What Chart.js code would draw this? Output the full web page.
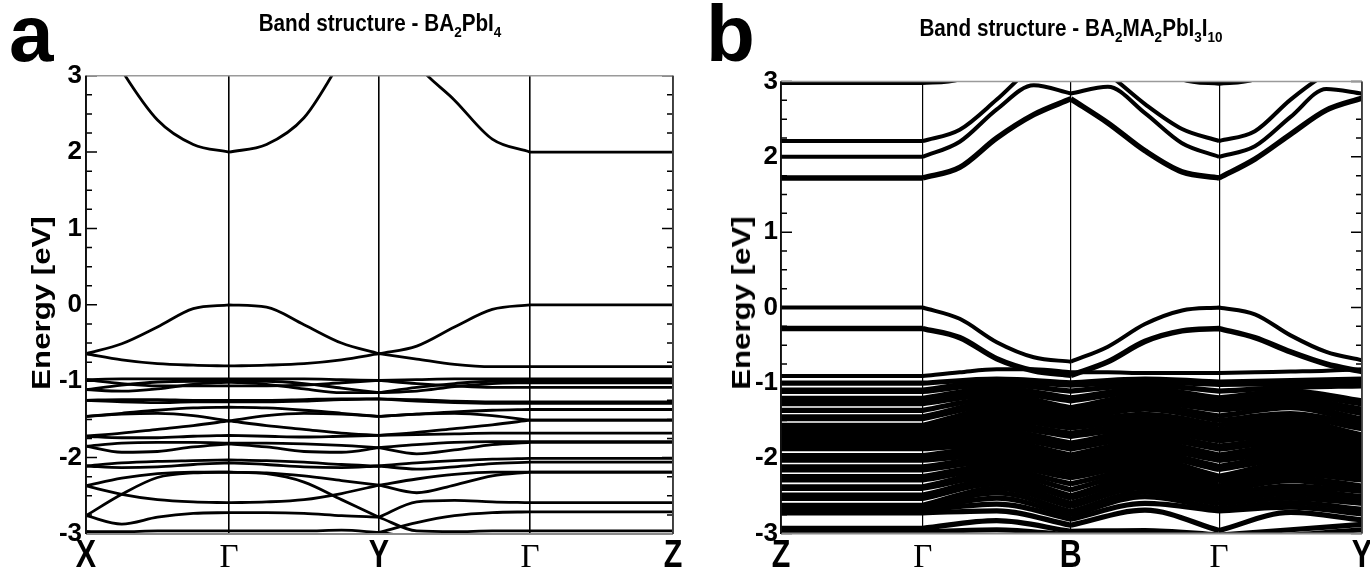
<!DOCTYPE html>
<html><head><meta charset="utf-8">
<script src="https://cdn.jsdelivr.net/npm/chart.js@4.4.1/dist/chart.umd.min.js"></script>
<style>
html,body{margin:0;padding:0;background:#fff;width:1370px;height:570px;overflow:hidden;}
#wrap{position:relative;width:1370px;height:570px;}
canvas{position:absolute;top:0;}
.lbl{position:absolute;font-family:"Liberation Sans",Arial,sans-serif;font-weight:bold;font-size:80px;line-height:80px;color:#000;}
.ttl{position:absolute;font-family:"Liberation Sans",Arial,sans-serif;font-weight:bold;font-size:23px;line-height:23px;white-space:nowrap;transform:translateX(-50%) scaleX(0.9);color:#000;}
.ttl sub{font-size:15px;vertical-align:-6px;line-height:0;}
.ytl{position:absolute;font-family:"Liberation Sans",Arial,sans-serif;font-weight:bold;font-size:26px;line-height:26px;white-space:nowrap;transform:translate(-50%,-50%) rotate(-90deg) scaleX(1.2);color:#000;}
</style></head>
<body><div id="wrap">
<canvas id="ca" width="690" height="570" style="left:0;width:690px;height:570px"></canvas>
<canvas id="cb" width="680" height="570" style="left:690px;width:680px;height:570px"></canvas>
<div class="lbl" style="left:9px;top:-6px">a</div>
<div class="lbl" style="left:706px;top:-6px">b</div>
<div class="ttl" style="left:380px;top:12px">Band structure - BA<sub>2</sub>PbI<sub>4</sub></div>
<div class="ttl" style="left:1071px;top:17px">Band structure - BA<sub>2</sub>MA<sub>2</sub>PbI<sub>3</sub>I<sub>10</sub></div>
<div class="ytl" style="left:41px;top:303px">Energy [eV]</div>
<div class="ytl" style="left:741px;top:303px">Energy [eV]</div>
</div>
<script>
// ---------------- Panel a : BA2PbI4 ----------------
const kNodesA = [0, 1, 2.049, 3.105, 4.105];
const kLabelsA = ['X', 'Γ', 'Y', 'Γ', 'Z'];
// samples: X .25 .5 .75 Γ .25 .5 .75 Y .25 .5 .75 Γ Z
const a_CB1 = [3.9, 3.07, 2.42, 2.10, 2.00, 2.10, 2.45, 3.2, 3.9, 3.15, 2.68, 2.17, 2.00, 2.00];
const a_VB1 = [-0.64, -0.51, -0.29, -0.05, 0.00, -0.03, -0.26, -0.50, -0.64, -0.54, -0.29, -0.06, 0.00, 0.00];
const a_VB2 = [-0.64, -0.72, -0.77, -0.79, -0.80, -0.79, -0.77, -0.72, -0.64, -0.71, -0.78, -0.81, -0.81, -0.81];
const a_L1 = [-0.98, -0.97, -0.97, -0.97, -0.97, -0.97, -0.97, -0.98, -0.99, -0.98, -0.97, -0.97, -0.97, -0.97];
const a_L2 = [-0.98, -1.03, -1.06, -1.06, -1.06, -1.06, -1.05, -1.02, -0.99, -1.03, -1.06, -1.08, -1.08, -1.08];
const a_L3 = [-1.11, -1.05, -1.01, -1.00, -1.00, -1.00, -1.03, -1.09, -1.15, -1.08, -1.03, -1.00, -1.00, -1.00];
const a_L4 = [-1.11, -1.13, -1.10, -1.04, -1.01, -1.04, -1.10, -1.15, -1.15, -1.13, -1.07, -1.03, -1.02, -1.02];
const a_L5 = [-1.25, -1.24, -1.24, -1.25, -1.25, -1.25, -1.24, -1.23, -1.23, -1.24, -1.26, -1.27, -1.27, -1.27];
const a_L6 = [-1.25, -1.27, -1.28, -1.27, -1.27, -1.27, -1.26, -1.24, -1.23, -1.26, -1.28, -1.29, -1.29, -1.29];
const a_L7 = [-1.46, -1.43, -1.42, -1.45, -1.52, -1.45, -1.42, -1.43, -1.46, -1.43, -1.42, -1.45, -1.51, -1.51];
const a_L8 = [-1.72, -1.68, -1.63, -1.58, -1.52, -1.58, -1.63, -1.68, -1.71, -1.67, -1.62, -1.57, -1.51, -1.51];
const a_L9 = [-1.46, -1.42, -1.38, -1.35, -1.34, -1.35, -1.38, -1.42, -1.46, -1.43, -1.40, -1.38, -1.37, -1.37];
const a_L10 = [-1.72, -1.74, -1.74, -1.72, -1.71, -1.72, -1.73, -1.72, -1.71, -1.70, -1.69, -1.68, -1.68, -1.68];
const a_L11 = [-1.85, -1.81, -1.80, -1.80, -1.81, -1.81, -1.82, -1.84, -1.87, -1.83, -1.80, -1.79, -1.79, -1.79];
const a_L12 = [-1.85, -1.93, -1.92, -1.86, -1.82, -1.86, -1.92, -1.93, -1.87, -1.95, -1.90, -1.83, -1.80, -1.80];
const a_L13 = [-2.11, -2.07, -2.05, -2.04, -2.03, -2.04, -2.06, -2.09, -2.11, -2.07, -2.04, -2.02, -2.01, -2.01];
const a_L14 = [-2.11, -2.13, -2.12, -2.09, -2.07, -2.09, -2.12, -2.13, -2.11, -2.15, -2.12, -2.08, -2.06, -2.06];
const a_L15 = [-2.37, -2.27, -2.21, -2.19, -2.19, -2.20, -2.24, -2.30, -2.36, -2.28, -2.22, -2.19, -2.19, -2.19];
const a_L16 = [-2.37, -2.48, -2.55, -2.58, -2.59, -2.58, -2.55, -2.47, -2.36, -2.46, -2.36, -2.24, -2.19, -2.19];
const a_L17 = [-2.76, -2.48, -2.26, -2.20, -2.19, -2.21, -2.32, -2.55, -2.78, -2.96, -2.97, -2.96, -2.96, -2.96];
const a_L18 = [-2.76, -2.87, -2.78, -2.73, -2.72, -2.72, -2.73, -2.76, -2.78, -2.58, -2.56, -2.58, -2.59, -2.59];
const a_L19 = [-2.97, -2.97, -2.96, -2.96, -2.96, -2.96, -2.96, -2.95, -2.98, -2.85, -2.76, -2.72, -2.71, -2.71];
const a_L20 = [-2.97, -3.04, -3.06, -3.06, -3.06, -3.06, -3.06, -3.04, -2.98, -3.04, -3.06, -3.06, -3.06, -3.06];

// ---------------- Panel b : BA2MA2Pb3I10 ----------------
const kNodesB = [0, 1, 2.045, 3.092, 4.100];
const kLabelsB = ['Z', 'Γ', 'B', 'Γ', 'Y'];
// samples: Z Γ .25 .5 .75 B .25 .5 .75 Γ .25 .5 .75 Y
const b_CBt = [2.98, 2.98, 3.03, 3.4, 3.6, 3.6, 3.6, 3.4, 3.03, 2.97, 3.03, 3.4, 3.6, 3.6];
const b_CBu = [2.21, 2.21, 2.36, 2.76, 3.2, 3.4, 3.1, 2.70, 2.37, 2.21, 2.34, 2.76, 3.1, 3.3];
const b_CBm = [2.00, 2.00, 2.20, 2.63, 2.95, 2.84, 2.93, 2.58, 2.18, 2.00, 2.14, 2.53, 2.90, 2.84];
const b_CBl = [1.72, 1.72, 1.86, 2.25, 2.56, 2.77, 2.45, 2.08, 1.80, 1.72, 1.97, 2.30, 2.62, 2.78];
const b_VB1 = [0.00, 0.00, -0.15, -0.46, -0.66, -0.72, -0.52, -0.22, -0.04, 0.00, -0.09, -0.37, -0.59, -0.70];
const b_VB2 = [-0.28, -0.28, -0.40, -0.68, -0.84, -0.90, -0.72, -0.45, -0.31, -0.28, -0.40, -0.59, -0.75, -0.85];
const b_VB3 = [-0.91, -0.91, -0.86, -0.82, -0.82, -0.86, -0.86, -0.87, -0.87, -0.87, -0.86, -0.85, -0.84, -0.82];
// dense manifold: sorted energies at Γ(=Z), mid Γ-B, B, mid B-Γ, Γ, mid Γ-Y, Y
const d_G1 = [-1.005,-1.095,-1.115,-1.205,-1.24,-1.275,-1.365,-1.45,-1.475,-1.565,-1.60,-1.64,-1.68,-1.70,-1.72,-1.76,-1.80,-1.82,-1.84,-1.875,-1.965,-2.00,-2.025,-2.115,-2.155,-2.245,-2.29,-2.38,-2.40,-2.49,-2.535,-2.625,-2.66,-2.675,-2.69,-2.725,-2.93,-2.98];
const d_q1 = [-0.95,-0.98,-1.02,-1.07,-1.12,-1.16,-1.21,-1.26,-1.30,-1.35,-1.40,-1.44,-1.49,-1.54,-1.58,-1.63,-1.68,-1.72,-1.77,-1.82,-1.86,-1.91,-1.96,-2.00,-2.05,-2.10,-2.15,-2.19,-2.24,-2.29,-2.34,-2.40,-2.46,-2.53,-2.61,-2.70,-2.83,-2.95];
const d_B = [-1.00,-1.03,-1.11,-1.20,-1.24,-1.33,-1.37,-1.41,-1.45,-1.49,-1.53,-1.57,-1.60,-1.67,-1.71,-1.80,-1.84,-1.88,-1.96,-2.00,-2.04,-2.08,-2.12,-2.16,-2.22,-2.26,-2.34,-2.42,-2.50,-2.53,-2.60,-2.64,-2.71,-2.76,-2.81,-2.89,-2.97,-3.02];
const d_q2 = [-0.95,-0.99,-1.03,-1.08,-1.12,-1.17,-1.21,-1.26,-1.31,-1.35,-1.42,-1.46,-1.51,-1.55,-1.60,-1.64,-1.69,-1.73,-1.78,-1.83,-1.87,-1.92,-1.96,-2.01,-2.05,-2.10,-2.15,-2.19,-2.24,-2.29,-2.34,-2.39,-2.45,-2.51,-2.60,-2.69,-2.96,-3.02];
const d_G2 = [-0.99,-1.02,-1.11,-1.20,-1.24,-1.28,-1.32,-1.36,-1.44,-1.50,-1.56,-1.62,-1.66,-1.70,-1.74,-1.77,-1.84,-1.88,-1.96,-2.00,-2.03,-2.11,-2.15,-2.24,-2.28,-2.31,-2.37,-2.41,-2.45,-2.49,-2.53,-2.56,-2.61,-2.67,-2.70,-2.96,-3.02,-3.05];
const d_q3 = [-0.97,-1.01,-1.06,-1.11,-1.16,-1.21,-1.25,-1.30,-1.33,-1.41,-1.45,-1.50,-1.55,-1.59,-1.64,-1.69,-1.74,-1.78,-1.83,-1.88,-1.93,-1.97,-2.02,-2.07,-2.12,-2.17,-2.21,-2.26,-2.30,-2.37,-2.42,-2.47,-2.53,-2.59,-2.65,-2.72,-2.95,-3.02];
const d_Y = [-0.95,-1.00,-1.04,-1.24,-1.28,-1.35,-1.41,-1.48,-1.52,-1.56,-1.61,-1.69,-1.73,-1.77,-1.81,-1.85,-1.89,-1.93,-1.97,-2.01,-2.05,-2.09,-2.13,-2.17,-2.21,-2.25,-2.29,-2.37,-2.41,-2.44,-2.51,-2.55,-2.60,-2.68,-2.74,-2.82,-2.88,-2.95];

const yTickValues = [-3, -2, -1, 0, 1, 2, 3];

// ---------------- helpers ----------------
const SANS = '"Liberation Sans",Arial,sans-serif';
const SERIF = '"Liberation Serif","DejaVu Serif",serif';

function buildSeries(nodes, divs, vals) {
  const pts = [];
  let idx = 0;
  for (let s = 0; s < divs.length; s++) {
    const n = divs[s], k0 = nodes[s], k1 = nodes[s + 1];
    for (let j = 0; j <= n; j++) pts.push({x: k0 + (k1 - k0) * j / n, y: vals[idx + j]});
    idx += n;
    if (s < divs.length - 1) pts.push({x: k1, y: null});
  }
  return pts;
}
function ds(data, w) {
  return {data, borderColor: '#000', borderWidth: w, pointRadius: 0, fill: false,
          cubicInterpolationMode: 'monotone', spanGaps: false, borderCapStyle: 'butt', borderJoinStyle: 'round'};
}

const frameTicks = {
  id: 'frameTicks',
  afterDatasetsDraw(chart) {
    const {ctx, chartArea: a, scales: {x, y}} = chart;
    const labels = chart.$kLabels, nodes = chart.$kNodes;
    ctx.save();
    ctx.strokeStyle = '#000';
    ctx.lineWidth = 1.5;
    for (let v = y.min; v <= y.max + 1e-9; v += 0.25) {
      const py = y.getPixelForValue(v);
      const len = Math.abs(v - Math.round(v)) < 1e-6 ? 11 : 6;
      ctx.beginPath();
      ctx.moveTo(a.left, py); ctx.lineTo(a.left + len, py);
      ctx.moveTo(a.right, py); ctx.lineTo(a.right - len, py);
      ctx.stroke();
    }
    // frame
    ctx.lineWidth = 1.5; ctx.strokeStyle = '#9a9a9a';
    ctx.beginPath(); ctx.moveTo(a.left, a.top); ctx.lineTo(a.right, a.top); ctx.stroke();
    ctx.lineWidth = 2; ctx.strokeStyle = '#8a8a8a';
    ctx.beginPath(); ctx.moveTo(a.left, a.bottom); ctx.lineTo(a.right, a.bottom); ctx.stroke();
    ctx.lineWidth = 1.8; ctx.strokeStyle = '#111';
    ctx.beginPath(); ctx.moveTo(a.left, a.top); ctx.lineTo(a.left, a.bottom); ctx.stroke();
    ctx.strokeStyle = '#444';
    ctx.beginPath(); ctx.moveTo(a.right, a.top); ctx.lineTo(a.right, a.bottom); ctx.stroke();
    // k-point labels (condensed, like the original plotting program)
    ctx.fillStyle = '#000';
    ctx.textBaseline = 'alphabetic';
    ctx.textAlign = 'center';
    const base = a.bottom + 33;
    nodes.forEach((k, i) => {
      const px = x.getPixelForValue(k);
      ctx.save();
      ctx.translate(px, base);
      if (labels[i] === 'Γ') {
        ctx.font = 'normal 33px ' + SERIF;
      } else {
        ctx.scale(0.78, 1);
        ctx.font = 'bold 39px ' + SANS;
      }
      ctx.fillText(labels[i], 0, 0);
      ctx.restore();
    });
    ctx.restore();
  }
};

function makeChart(id, nodes, labels, datasets, geo) {
  const ch = new Chart(document.getElementById(id), {
    type: 'line',
    data: {datasets},
    options: {
      responsive: false, animation: false, devicePixelRatio: 1,
      layout: {autoPadding: false, padding: {top: geo.top, right: geo.right, left: 0, bottom: 0}},
      plugins: {legend: {display: false}, tooltip: {enabled: false}, title: {display: false}},
      scales: {
        x: {
          type: 'linear', min: nodes[0], max: nodes[nodes.length - 1],
          afterBuildTicks: (s) => { s.ticks = nodes.map(v => ({value: v})); },
          afterFit: (s) => { s.height = geo.xh; },
          ticks: {display: false, autoSkip: false, callback: (v, i) => labels[i]},
          grid: {color: '#000', lineWidth: geo.gw, drawTicks: false, drawOnChartArea: true},
          border: {display: false}
        },
        y: {
          type: 'linear', min: -3, max: 3,
          afterBuildTicks: (s) => { s.ticks = yTickValues.map(v => ({value: v})); },
          afterFit: (s) => { s.width = geo.yw; },
          ticks: {padding: geo.tp, color: '#000', font: {family: SANS, size: 26, weight: 'bold'}},
          grid: {display: false, drawTicks: false},
          border: {display: false}
        }
      }
    },
    plugins: [{id: 'kinfo', beforeInit(c) { c.$kLabels = labels; c.$kNodes = nodes; }}, frameTicks]
  });
  return ch;
}

// panel a datasets
const divsA = [4, 4, 4, 1];
const bandsA = [a_CB1, a_VB1, a_VB2, a_L1, a_L2, a_L3, a_L4, a_L5, a_L6, a_L7, a_L8, a_L9, a_L10,
                a_L11, a_L12, a_L13, a_L14, a_L15, a_L16, a_L17, a_L18, a_L19, a_L20];
const dsA = bandsA.map(b => ds(buildSeries(kNodesA, divsA, b), 2.8));
makeChart('ca', kNodesA, kLabelsA, dsA, {top: 75.7, right: 17, xh: 36, yw: 86, tp: 4, gw: 1.6});

// panel b datasets
const divsB = [1, 4, 4, 4];
const divsD = [1, 2, 2, 2];
const dsB = [];
for (let i = 0; i < d_G1.length; i++) {
  const col = [d_G1[i], d_G1[i], d_q1[i], d_B[i], d_q2[i], d_G2[i], d_q3[i], d_Y[i]];
  dsB.push(ds(buildSeries(kNodesB, divsD, col), 5.2));
}
dsB.push(ds(buildSeries(kNodesB, divsB, b_VB3), 4));
dsB.push(ds(buildSeries(kNodesB, divsB, b_VB2), 5.5));
dsB.push(ds(buildSeries(kNodesB, divsB, b_VB1), 4));
dsB.push(ds(buildSeries(kNodesB, divsB, b_CBl), 5.5));
dsB.push(ds(buildSeries(kNodesB, divsB, b_CBm), 4));
dsB.push(ds(buildSeries(kNodesB, divsB, b_CBu), 4));
dsB.push(ds(buildSeries(kNodesB, divsB, b_CBt), 4));
makeChart('cb', kNodesB, kLabelsB, dsB, {top: 81.5, right: 8, xh: 36.5, yw: 91, tp: 3, gw: 1.2});
</script>
</body></html>
